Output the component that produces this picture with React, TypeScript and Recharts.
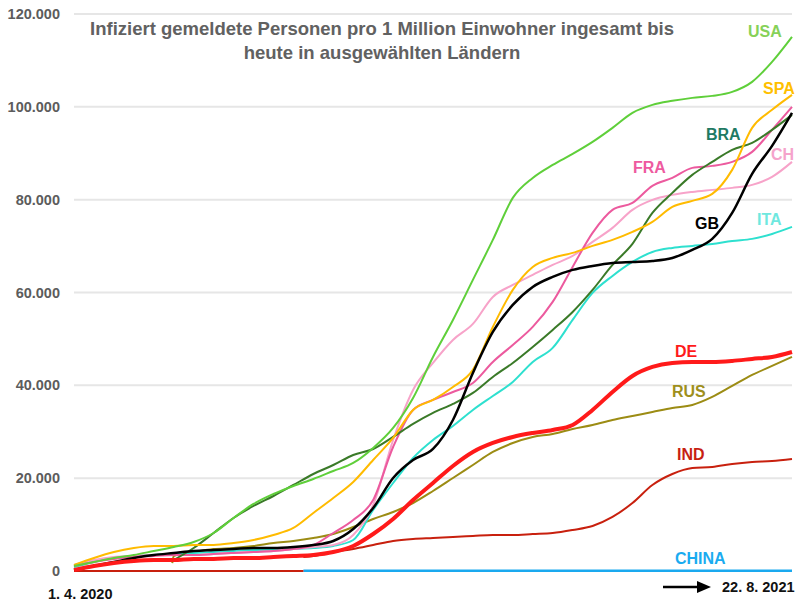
import React from 'react';
import { LineChart, Line, XAxis, YAxis, CartesianGrid } from 'recharts';

// Tage seit 1.4.2020 (zweiwöchentlich)
const DAYS = [0, 14, 28, 42, 56, 70, 84, 98, 112, 126, 140, 154, 168, 182, 196, 210, 224, 238, 252, 266, 280, 294, 308, 322, 336, 350, 364, 378, 392, 406, 420, 434, 448, 462, 476, 490, 504];

const Y_TICKS = [0, 20000, 40000, 60000, 80000, 100000, 120000];

// Infizierte pro 1 Mio. Einwohner
const USA = [1080, 1940, 2800, 3450, 4310, 5170, 6250, 8190, 11420, 14440, 16590, 18320, 19830, 21550, 23270, 26510, 30820, 37280, 46120, 54090, 62710, 71330, 80380, 84690, 87490, 89860, 92450, 95470, 98700, 100420, 101290, 101930, 102360, 103220, 105380, 109690, 115080];
const SPA = [1290, 2800, 4090, 4960, 5390, 5390, 5600, 5600, 6030, 6680, 7760, 9270, 12500, 15730, 19180, 23920, 28660, 34700, 36850, 39650, 43320, 52580, 60560, 65510, 67450, 68530, 70040, 71330, 73050, 75210, 78440, 79740, 81240, 86420, 95470, 99350, 102580];
const FRA = [1080, 1940, 2590, 3020, 3230, 3450, 3450, 3660, 3880, 4090, 4310, 4740, 5600, 8190, 10990, 15300, 26720, 34700, 36850, 38570, 40510, 45040, 48700, 52580, 57970, 65510, 72840, 77800, 79300, 82970, 84690, 86850, 87280, 88140, 90290, 95040, 99990];
const CH = [1290, 2370, 3020, 3230, 3450, 3450, 3450, 3660, 3880, 4090, 4310, 4740, 5170, 5600, 7760, 14220, 28230, 39010, 44820, 49780, 53230, 59050, 61630, 63790, 65940, 67880, 70900, 73920, 77800, 79950, 81030, 81670, 82110, 82540, 83180, 84910, 88140];
const GB = [220, 1080, 1940, 2800, 3450, 3880, 4310, 4530, 4740, 4960, 4960, 5170, 5600, 6470, 9050, 13580, 20040, 23920, 26290, 32540, 42670, 51500, 57320, 61200, 63360, 64870, 65730, 66370, 66590, 66810, 67450, 69180, 71550, 77150, 85550, 91590, 98700];
const ITA = [860, 1940, 2800, 3230, 3450, 3660, 3880, 4090, 4310, 4530, 4530, 4740, 4960, 5390, 6680, 13150, 18960, 24350, 28230, 31250, 34700, 37710, 40730, 45040, 48060, 54090, 59910, 63570, 66590, 68740, 69610, 70040, 70470, 71120, 71550, 72620, 74130];
const BRA = [null, null, null, null, null, 2370, 4960, 8190, 11420, 14010, 16160, 18530, 20900, 22840, 25000, 26290, 28880, 31680, 34050, 35990, 38360, 41810, 44820, 48270, 51940, 55810, 60560, 65940, 70470, 77150, 81460, 85340, 88140, 90730, 92230, 95040, 98270];
const RUS = [null, null, null, null, null, 3230, 4090, 4740, 4960, 5390, 6030, 6470, 7110, 7970, 9480, 11210, 12710, 14650, 17240, 20040, 22840, 25640, 27580, 28880, 29520, 30600, 31460, 32540, 33400, 34260, 35130, 35770, 37500, 39870, 42240, 44180, 46120];
const DE = [220, 1080, 1720, 2160, 2370, 2370, 2590, 2590, 2800, 2800, 3020, 3230, 3450, 4090, 5390, 7970, 11210, 15300, 18960, 22630, 25640, 27580, 28880, 29740, 30390, 31460, 34700, 38570, 42020, 43960, 44820, 45040, 45040, 45260, 45690, 46120, 47190];
const IND = [null, null, null, null, null, null, null, null, null, null, null, null, 3230, 4090, 4740, 5600, 6470, 6900, 7110, 7330, 7540, 7760, 7760, 7970, 8190, 8840, 9700, 11640, 14650, 18530, 20900, 22200, 22410, 23060, 23490, 23710, 24140];

// Stücke, die nicht auf dem 14-Tage-Raster liegen
const RUS_PRE_DAYS = [69];
const RUS_PRE = [1700];
const IND_PRE_DAYS = [161];
const IND_PRE = [3000];
const IND_ZERO_DAYS = [0, 161];
const IND_ZERO = [0, 0];
const CHINA_DAYS = [161, 504];
const CHINA = [80, 80];

type Pt = { d: number; v: number };

const pairs = (days: number[], values: number[]): Pt[] => days.map((d, i) => ({ d, v: values[i] }));

const toPoints = (values: (number | null)[], preDays: number[] = [], pre: number[] = []): Pt[] => {
  const body = values
    .map((v, i) => ({ d: DAYS[i], v }))
    .filter((p) => p.v !== null) as Pt[];
  return [...pairs(preDays, pre), ...body];
};

const SERIES = [
  { name: 'CHINA', data: pairs(CHINA_DAYS, CHINA), color: '#1aa9ef', width: 2.5 },
  { name: 'IND0', data: pairs(IND_ZERO_DAYS, IND_ZERO), color: '#c8200e', width: 2 },
  { name: 'IND', data: toPoints(IND, IND_PRE_DAYS, IND_PRE), color: '#c8200e', width: 2 },
  { name: 'RUS', data: toPoints(RUS, RUS_PRE_DAYS, RUS_PRE), color: '#9c8c14', width: 2 },
  { name: 'ITA', data: toPoints(ITA), color: '#2ee0cf', width: 2 },
  { name: 'CH', data: toPoints(CH), color: '#f7a3c9', width: 2 },
  { name: 'FRA', data: toPoints(FRA), color: '#ec5a9e', width: 2 },
  { name: 'BRA', data: toPoints(BRA), color: '#3a7a28', width: 2 },
  { name: 'SPA', data: toPoints(SPA), color: '#ffbb00', width: 2 },
  { name: 'USA', data: toPoints(USA), color: '#5fcf3a', width: 2 },
  { name: 'GB', data: toPoints(GB), color: '#000000', width: 2.5 },
  { name: 'DE', data: toPoints(DE), color: '#ff1a1a', width: 4 },
];

const LABELS = [
  { text: 'USA', x: 748, y: 37, color: '#86d158' },
  { text: 'SPA', x: 763, y: 94, color: '#ffbf00' },
  { text: 'BRA', x: 706, y: 140, color: '#1f7a63' },
  { text: 'CH', x: 771, y: 160, color: '#f5a3cb' },
  { text: 'FRA', x: 633, y: 173, color: '#ee5a9f' },
  { text: 'GB', x: 695, y: 229, color: '#000000' },
  { text: 'ITA', x: 757, y: 225, color: '#6fe8df' },
  { text: 'DE', x: 675, y: 357, color: '#ff1a1a' },
  { text: 'RUS', x: 672, y: 397, color: '#9e8f1c' },
  { text: 'IND', x: 677, y: 460, color: '#c71f12' },
  { text: 'CHINA', x: 675, y: 564, color: '#1aabf0' },
];

const fmt = (v: number) => String(v).replace(/\B(?=(\d{3})+(?!\d))/g, '.');

const FONT = '"Liberation Sans", Arial, Helvetica, sans-serif';

export default function App() {
  return (
    <div style={{ position: 'absolute', left: 0, top: 0, width: 800, height: 613, background: '#fff', fontFamily: FONT }}>
      <LineChart width={800} height={613} margin={{ top: 14, right: 8, bottom: 42, left: 0 }}>
        <CartesianGrid vertical={false} stroke="#e6e6e6" strokeWidth={2} />
        <XAxis type="number" dataKey="d" domain={[0, 504]} hide allowDuplicatedCategory={false} />
        <YAxis
          type="number"
          domain={[0, 120000]}
          ticks={Y_TICKS}
          width={74}
          axisLine={false}
          tickLine={false}
          tickMargin={8}
          tickFormatter={fmt}
          tick={{ fill: '#5c5c5c', fontSize: 14.5, fontWeight: 700, fontFamily: FONT }}
        />
        {SERIES.map((s) => (
          <Line
            key={s.name}
            data={s.data}
            dataKey="v"
            type="monotone"
            stroke={s.color}
            strokeWidth={s.width}
            dot={false}
            isAnimationActive={false}
          />
        ))}
      </LineChart>
      <svg width={800} height={613} style={{ position: 'absolute', left: 0, top: 0, pointerEvents: 'none' }}>
        <g fontFamily={FONT} fontWeight={700}>
          <text x={382} y={35} textAnchor="middle" fontSize={18.5} fill="#616161">
            Infiziert gemeldete Personen pro 1 Million Einwohner ingesamt bis
          </text>
          <text x={382} y={59} textAnchor="middle" fontSize={18.5} fill="#616161">
            heute in ausgewählten Ländern
          </text>
          {LABELS.map((l) => (
            <text key={l.text} x={l.x} y={l.y} fontSize={16} fill={l.color}>
              {l.text}
            </text>
          ))}
          <text x={48} y={599} fontSize={14.5} fill="#111">1. 4. 2020</text>
          <text x={722} y={592} fontSize={14.5} fill="#111">22. 8. 2021</text>
        </g>
        <line x1={663} y1={587} x2={700} y2={587} stroke="#000" strokeWidth={2.5} />
        <polygon points="697,581 711,587 697,593" fill="#000" />
      </svg>
    </div>
  );
}
